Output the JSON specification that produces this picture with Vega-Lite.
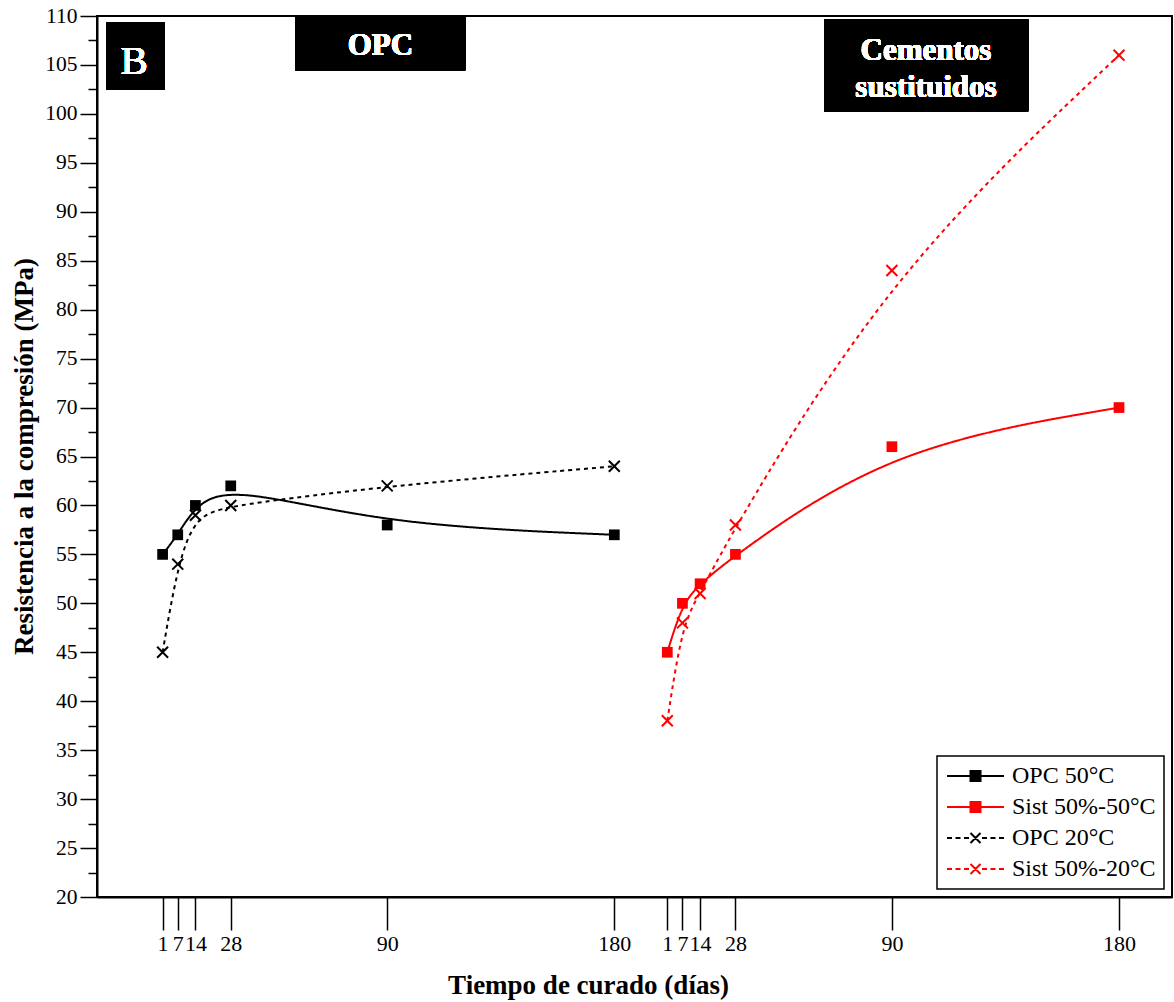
{
  "$schema": "https://vega.github.io/schema/vega-lite/v6.json",
  "autosize": {"type": "none"},
  "padding": {"left": 97, "top": 16, "right": 2, "bottom": 105},
  "width": 1075,
  "height": 881,
  "background": "white",
  "config": {
    "view": {"stroke": "black", "strokeWidth": 2},
    "font": "Liberation Serif",
    "axis": {
      "grid": false,
      "domainColor": "black",
      "domainWidth": 2,
      "tickColor": "black",
      "tickWidth": 1.5,
      "labelColor": "black",
      "labelFont": "Liberation Serif",
      "titleFont": "Liberation Serif",
      "titleColor": "black",
      "titleFontWeight": "bold"
    },
    "legend": {
      "strokeColor": "black",
      "strokeWidth": 1.5,
      "fillColor": "white",
      "padding": 8,
      "labelFont": "Liberation Serif",
      "labelFontSize": 24,
      "labelColor": "black",
      "labelOffset": 43,
      "rowPadding": 7,
      "symbolSize": 400,
      "symbolStrokeWidth": 2,
      "symbolOpacity": 1
    }
  },
  "data": {
    "values": [
      {"serie": "OPC 50°C", "x": 1, "valor": 55},
      {"serie": "OPC 50°C", "x": 7, "valor": 57},
      {"serie": "OPC 50°C", "x": 14, "valor": 60},
      {"serie": "OPC 50°C", "x": 28, "valor": 62},
      {"serie": "OPC 50°C", "x": 90, "valor": 58},
      {"serie": "OPC 50°C", "x": 180, "valor": 57},
      {"serie": "OPC 20°C", "x": 1, "valor": 45},
      {"serie": "OPC 20°C", "x": 7, "valor": 54},
      {"serie": "OPC 20°C", "x": 14, "valor": 59},
      {"serie": "OPC 20°C", "x": 28, "valor": 60},
      {"serie": "OPC 20°C", "x": 90, "valor": 62},
      {"serie": "OPC 20°C", "x": 180, "valor": 64},
      {"serie": "Sist 50%-50°C", "x": 201, "valor": 45},
      {"serie": "Sist 50%-50°C", "x": 207, "valor": 50},
      {"serie": "Sist 50%-50°C", "x": 214, "valor": 52},
      {"serie": "Sist 50%-50°C", "x": 228, "valor": 55},
      {"serie": "Sist 50%-50°C", "x": 290, "valor": 66},
      {"serie": "Sist 50%-50°C", "x": 380, "valor": 70},
      {"serie": "Sist 50%-20°C", "x": 201, "valor": 38},
      {"serie": "Sist 50%-20°C", "x": 207, "valor": 48},
      {"serie": "Sist 50%-20°C", "x": 214, "valor": 51},
      {"serie": "Sist 50%-20°C", "x": 228, "valor": 58},
      {"serie": "Sist 50%-20°C", "x": 290, "valor": 84},
      {"serie": "Sist 50%-20°C", "x": 380, "valor": 106}
    ]
  },
  "encoding": {
    "x": {
      "field": "x",
      "type": "quantitative",
      "scale": {"domain": [-25, 401], "nice": false, "zero": false},
      "axis": {
        "title": "Tiempo de curado (días)",
        "titleFontSize": 27,
        "titleX": 491,
        "titleY": 96,
        "titleBaseline": "alphabetic",
        "titleAlign": "center",
        "values": [1, 7, 14, 28, 90, 180, 201, 207, 214, 228, 290, 380],
        "labelExpr": "datum.value > 190 ? format(datum.value - 200, 'd') : datum.label",
        "tickSize": 33,
        "labelFontSize": 22,
        "labelPadding": 3,
        "labelOverlap": false,
        "labelFlush": false,
        "labelBound": false
      }
    },
    "y": {
      "field": "valor",
      "type": "quantitative",
      "scale": {"domain": [20, 110], "nice": false, "zero": false},
      "axis": {
        "title": "Resistencia a la compresión (MPa)",
        "titleFontSize": 27,
        "titleAngle": 270,
        "titleX": -73,
        "titleY": 440,
        "titleBaseline": "middle",
        "titleAlign": "center",
        "values": [20, 22.5, 25, 27.5, 30, 32.5, 35, 37.5, 40, 42.5, 45, 47.5, 50, 52.5, 55, 57.5, 60, 62.5, 65, 67.5, 70, 72.5, 75, 77.5, 80, 82.5, 85, 87.5, 90, 92.5, 95, 97.5, 100, 102.5, 105, 107.5, 110],
        "labelExpr": "datum.value % 5 === 0 ? datum.label : ''",
        "tickSize": {"condition": {"test": "datum.value % 5 === 0", "value": 17}, "value": 9},
        "labelFontSize": 21.5,
        "labelPadding": 3,
        "labelOverlap": false,
        "labelBound": false,
        "labelFlush": false
      }
    }
  },
  "layer": [
    {
      "mark": {"type": "rect", "color": "black"},
      "encoding": {
        "x": {"datum": -21.3},
        "x2": {"datum": 1.8},
        "y": {"datum": 109.33},
        "y2": {"datum": 102.48}
      }
    },
    {
      "mark": {"type": "rect", "color": "black"},
      "encoding": {
        "x": {"datum": 53.7},
        "x2": {"datum": 120.9},
        "y": {"datum": 109.9},
        "y2": {"datum": 104.45}
      }
    },
    {
      "mark": {"type": "rect", "color": "black"},
      "encoding": {
        "x": {"datum": 263.1},
        "x2": {"datum": 344.0},
        "y": {"datum": 109.63},
        "y2": {"datum": 100.26}
      }
    },
    {
      "mark": {"type": "text", "text": "B", "color": "white", "font": "Liberation Serif", "fontWeight": "normal", "fontSize": 41, "align": "center", "baseline": "alphabetic"},
      "encoding": {"x": {"datum": -10.3}, "y": {"datum": 104.04}}
    },
    {
      "mark": {"type": "text", "text": "OPC", "color": "white", "font": "Liberation Serif", "fontWeight": "bold", "fontSize": 31, "align": "center", "baseline": "alphabetic"},
      "encoding": {"x": {"datum": 87.3}, "y": {"datum": 106.0}}
    },
    {
      "mark": {"type": "text", "text": ["Cementos", "sustituidos"], "lineHeight": 36.7, "color": "white", "font": "Liberation Serif", "fontWeight": "bold", "fontSize": 31, "align": "center", "baseline": "alphabetic"},
      "encoding": {"x": {"datum": 303.5}, "y": {"datum": 105.47}}
    },
    {
      "mark": {"type": "line", "interpolate": "basis", "strokeWidth": 2},
      "encoding": {
        "color": {
          "field": "serie",
          "type": "nominal",
          "scale": {"range": ["black", "black", "#ff0000", "#ff0000"]},
          "legend": null
        },
        "strokeDash": {
          "field": "serie",
          "type": "nominal",
          "scale": {"range": [[4, 4], [1, 0], [4, 4], [1, 0]]},
          "legend": null
        }
      }
    },
    {
      "transform": [{"filter": {"field": "serie", "oneOf": ["OPC 50°C", "Sist 50%-50°C"]}}],
      "mark": {"type": "point", "shape": "square", "filled": true, "size": 115, "opacity": 1},
      "encoding": {
        "color": {
          "field": "serie",
          "type": "nominal",
          "scale": {"range": ["black", "black", "#ff0000", "#ff0000"]},
          "legend": null
        }
      }
    },
    {
      "transform": [{"filter": {"field": "serie", "oneOf": ["OPC 20°C", "Sist 50%-20°C"]}}],
      "mark": {"type": "point", "shape": "M-1,-1L1,1M-1,1L1,-1", "filled": false, "size": 120, "strokeWidth": 2, "opacity": 1},
      "encoding": {
        "color": {
          "field": "serie",
          "type": "nominal",
          "scale": {"range": ["black", "black", "#ff0000", "#ff0000"]},
          "legend": null
        }
      }
    },
    {
      "mark": {"type": "point", "filled": true, "size": 400, "strokeWidth": 2, "opacity": 0},
      "encoding": {
        "fill": {
          "field": "serie",
          "type": "nominal",
          "scale": {"domain": ["OPC 50°C", "Sist 50%-50°C", "OPC 20°C", "Sist 50%-20°C"], "range": ["black", "#ff0000", "black", "#ff0000"]},
          "legend": {"title": null, "orient": "bottom-right", "offset": 8}
        },
        "stroke": {
          "field": "serie",
          "type": "nominal",
          "scale": {"domain": ["OPC 50°C", "Sist 50%-50°C", "OPC 20°C", "Sist 50%-20°C"], "range": ["black", "#ff0000", "black", "#ff0000"]},
          "legend": {"title": null, "orient": "bottom-right", "offset": 8}
        },
        "shape": {
          "field": "serie",
          "type": "nominal",
          "scale": {
            "domain": ["OPC 50°C", "Sist 50%-50°C", "OPC 20°C", "Sist 50%-20°C"],
            "range": [
              "M-1,0H4.7M1.35,-0.5H2.35V0.5H1.35Z",
              "M-1,0H4.7M1.35,-0.5H2.35V0.5H1.35Z",
              "M-1,0H-0.5M-0.15,0H0.35M0.7,0H1.2M1.35,-0.5L2.35,0.5M1.35,0.5L2.35,-0.5M2.5,0H3M3.35,0H3.85M4.2,0H4.7",
              "M-1,0H-0.5M-0.15,0H0.35M0.7,0H1.2M1.35,-0.5L2.35,0.5M1.35,0.5L2.35,-0.5M2.5,0H3M3.35,0H3.85M4.2,0H4.7"
            ]
          },
          "legend": {"title": null, "orient": "bottom-right", "offset": 8}
        }
      }
    }
  ]
}
